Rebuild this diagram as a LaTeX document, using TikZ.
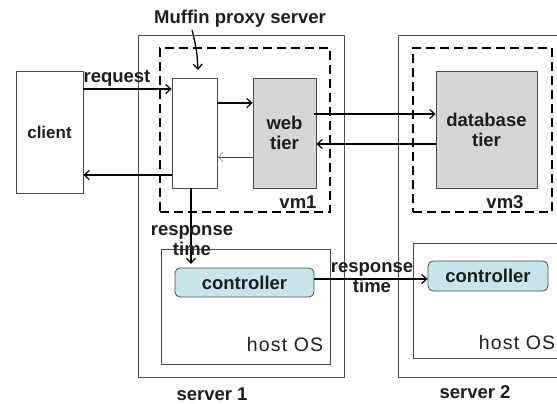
\documentclass[tikz,border=0pt]{standalone}
\usepackage{fontspec}
\setmainfont{Liberation Sans}
\usetikzlibrary{arrows.meta}
\definecolor{tiergray}{HTML}{D6D6D6}
\definecolor{ctrlcyan}{HTML}{C8E5EA}
\definecolor{edgegray}{HTML}{4A4A4A}
\definecolor{txt}{HTML}{1E1E1E}
\tikzset{
  lbl/.style={font=\fontsize{18.5}{20}\selectfont\bfseries, text=txt, inner sep=0pt, align=center},
  clientlbl/.style={font=\fontsize{17}{20}\selectfont\bfseries, text=txt, inner sep=0pt, align=center},
  hostlbl/.style={font=\fontsize{19.5}{22}\selectfont\addfontfeature{LetterSpace=6}, text=txt, inner sep=0pt},
  plainbox/.style={draw=edgegray, line width=0.8pt, inner sep=0pt},
  vmbox/.style={draw=black, line width=2.6pt, dash pattern=on 9pt off 5pt, inner sep=0pt},
  tierbox/.style={plainbox, fill=tiergray},
  ctrlbox/.style={plainbox, fill=ctrlcyan, rounded corners=5pt},
  arr/.style={draw=black, line width=1.3pt, -{Straight Barb[length=5pt,width=9pt,line width=1.2pt]}},
  thinarr/.style={draw=black!75, line width=1pt, -{Straight Barb[length=5pt,width=9pt,line width=0.8pt,color=black!40]}}
}
\begin{document}
\begin{tikzpicture}[x=1pt,y=-1pt]
\useasboundingbox (0,0) rectangle (557,404);
\clip (0,0) rectangle (557,404);
\fill[white] (0,0) rectangle (557,404);
% servers
\node[plainbox, minimum width=206pt, minimum height=342pt] (server1) at (241,206) {};
\node[plainbox, minimum width=177pt, minimum height=342pt] (server2) at (486.5,206) {};
% vms
\node[vmbox, minimum width=170pt, minimum height=164pt] (vm1) at (245,130) {};
\node[vmbox, minimum width=139pt, minimum height=164pt] (vm3) at (482.5,130) {};
% host OS
\node[plainbox, minimum width=169pt, minimum height=115pt] (host1) at (245.5,306.5) {};
\node[plainbox, minimum width=162pt, minimum height=115pt] (host2) at (494,300.5) {};
% boxes
\node[plainbox, clientlbl, minimum width=67pt, minimum height=122pt] (client) at (49.5,132) {client};
\node[plainbox, fill=white, minimum width=45pt, minimum height=110pt] (proxy) at (194.5,133) {};
\node[tierbox, lbl, minimum width=63pt, minimum height=110pt] (web) at (284.5,133) {web\\tier};
\node[tierbox, lbl, minimum width=101pt, minimum height=117pt] (db) at (486.5,129.5) {database\\tier};
\node[ctrlbox, lbl, minimum width=139pt, minimum height=29pt] (ctrl1) at (244.5,282.5) {controller};
\node[ctrlbox, lbl, minimum width=120pt, minimum height=30pt] (ctrl2) at (488,276) {controller};
% labels
\node[lbl] (muffin) at (240,19) {Muffin proxy server};
\node[lbl] (reqlbl) at (117,78) {request};
\node[lbl] (vm1lbl) at (298,202) {vm1};
\node[lbl] (vm3lbl) at (505,202) {vm3};
\node[hostlbl] (host1lbl) at (285,345) {host OS};
\node[hostlbl] (host2lbl) at (517,343) {host OS};
\node[lbl] (srv1lbl) at (212,394) {server 1};
\node[lbl] (srv2lbl) at (475,392) {server 2};
% arrows
\coordinate (proxytop) at (198,70);
\draw[arr] ([xshift=-48pt,yshift=-2pt]muffin.south) to[bend left=6] (proxytop);
\draw[arr] (client.east |- 0,89) -- (proxy.west |- 0,89);
\draw[arr] (proxy.east |- 0,103) -- (web.west |- 0,103);
\draw[thinarr] (web.west |- 0,157) -- (proxy.east |- 0,157);
\draw[arr] (proxy.west |- 0,175) -- (client.east |- 0,175);
\draw[arr] ([xshift=-2pt]web.east |- 0,114) -- (db.west |- 0,114);
\draw[arr] (db.west |- 0,144) -- (web.east |- 0,144);
\draw[arr] (191,0 |- proxy.south) -- (191,264);
\draw[arr] (ctrl1.east |- 0,279) -- (ctrl2.west |- 0,279);
\node[lbl] (rt1) at (192,241) {response\\time};
\node[lbl] (rt2) at (372,278) {response\\time};
\end{tikzpicture}
\end{document}
